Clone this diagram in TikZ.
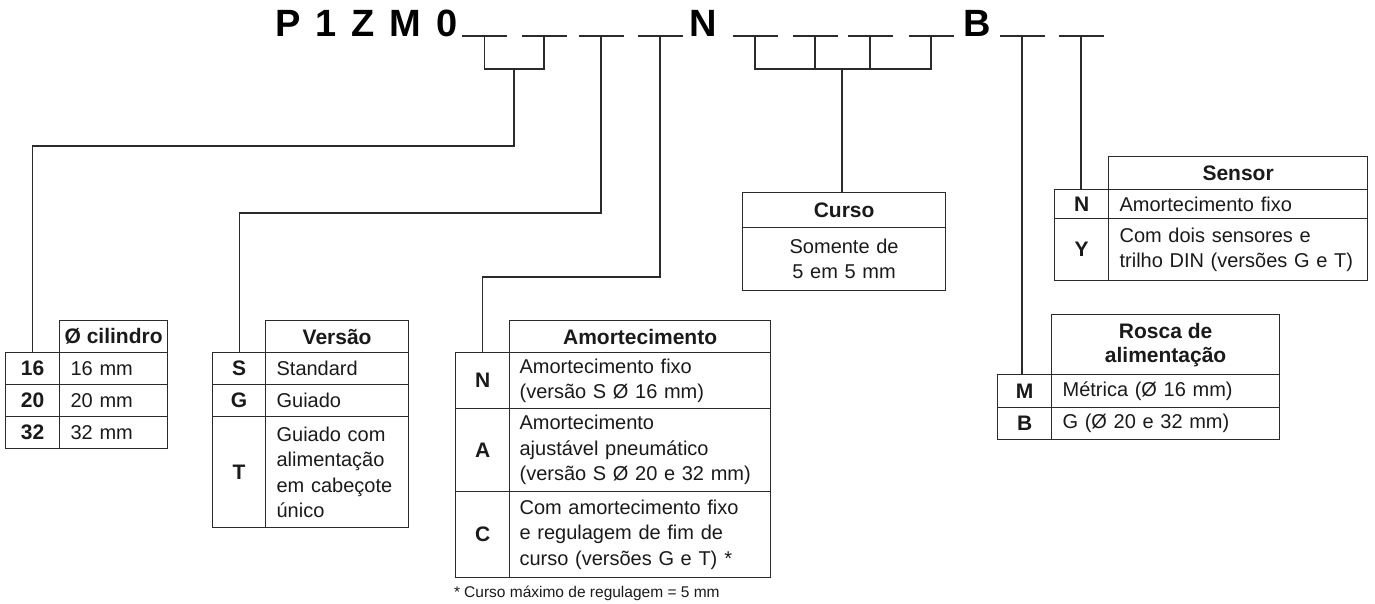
\documentclass[tikz,border=0pt]{standalone}
\usepackage{fontspec}
\setmainfont{Liberation Sans}
\usetikzlibrary{calc}
\definecolor{ln}{HTML}{2B2B2B}
\definecolor{tx}{HTML}{1A1A1A}
\newcommand\bodyf{\fontsize{20}{25.5}\selectfont}
\newcommand\boldf{\fontsize{21}{25.5}\selectfont\bfseries}
\newcommand\codef{\fontsize{38}{40}\selectfont\bfseries}
\newcommand\footf{\fontsize{15.5}{18}\selectfont}
\tikzset{
  cellbox/.style={draw=ln, line width=1.2pt, inner sep=0pt, anchor=north west, text=tx, font=\bodyf},
  keycell/.style={cellbox, font=\boldf, align=center, minimum width=54pt},
  valcell/.style={cellbox, align=left, inner xsep=11pt},
  headcell/.style={cellbox, font=\boldf, align=center},
  conn/.style={draw=ln, line width=1.2pt},
  uline/.style={draw=ln, line width=1.8pt},
  codetxt/.style={font=\codef, inner sep=0pt, anchor=base west, text=black},
}
\begin{document}
\begin{tikzpicture}[x=1pt, y=-1pt]
\useasboundingbox (0,0) rectangle (1375,604);
% code text
\node[codetxt] (code) at (275,37) {P\kern15pt 1\kern15pt Z\kern15pt M\kern15pt 0};
\node[codetxt] (cN) at (689,37) {N};
\node[codetxt] (cB) at (963,37) {B};
% underscore positions
\foreach \n/\x in {1/484.5,2/544,3/601,4/660,5/755,6/815,7/870,8/931,9/1022,10/1081}
  \coordinate (u\n) at (\x,36);
\foreach \n in {1,...,10}
  \draw[uline] ($(u\n)+(-22.5,0)$) -- ($(u\n)+(22.5,0)$);
\coordinate (b1) at (514,69);
\coordinate (b2) at (842,69);
% brackets
\draw[conn] (u1) -- (u1 |- b1) -- (u2 |- b1) -- (u2);
\draw[conn] (u5) -- (u5 |- b2) -- (u8 |- b2) -- (u8);
\draw[conn] (u6) -- (u6 |- b2);
\draw[conn] (u7) -- (u7 |- b2);

% ---- table: diameter
\node[headcell, minimum width=108pt, minimum height=32pt] (hD) at (59,320) {Ø cilindro};
\node[keycell, minimum height=32pt] (k16) at (5,352) {16};
\node[valcell, text width=86pt, minimum height=32pt] (v16) at (59,352) {16 mm};
\node[keycell, minimum height=32pt] (k20) at (5,384) {20};
\node[valcell, text width=86pt, minimum height=32pt] (v20) at (59,384) {20 mm};
\node[keycell, minimum height=32pt] (k32) at (5,416) {32};
\node[valcell, text width=86pt, minimum height=32pt] (v32) at (59,416) {32 mm};

% ---- table: version
\node[headcell, minimum width=143pt, minimum height=32pt] (hV) at (265,320) {Versão};
\node[keycell, minimum width=53pt, minimum height=32pt] (kS) at (212,352) {S};
\node[valcell, text width=121pt, minimum height=32pt] (vS) at (265,352) {Standard};
\node[keycell, minimum width=53pt, minimum height=32pt] (kG) at (212,384) {G};
\node[valcell, text width=121pt, minimum height=32pt] (vG) at (265,384) {Guiado};
\node[keycell, minimum width=53pt, minimum height=111pt] (kT) at (212,416) {T};
\node[valcell, text width=121pt, minimum height=111pt] (vT) at (265,416) {Guiado com\\alimentação\\em cabeçote\\único};

% ---- table: cushioning
\node[headcell, minimum width=261pt, minimum height=32pt] (hA) at (509,320) {Amortecimento};
\node[keycell, minimum height=56pt] (kAN) at (455,352) {N};
\node[valcell, inner xsep=10pt, text width=241pt, minimum height=56pt] (vAN) at (509,352) {Amortecimento fixo\\(versão S Ø 16 mm)};
\node[keycell, minimum height=83pt] (kAA) at (455,408) {A};
\node[valcell, inner xsep=10pt, text width=241pt, minimum height=83pt] (vAA) at (509,408) {Amortecimento\\ajustável pneumático\\(versão S Ø 20 e 32 mm)};
\node[keycell, minimum height=86pt] (kAC) at (455,491) {C};
\node[valcell, inner xsep=10pt, text width=241pt, minimum height=86pt] (vAC) at (509,491) {Com amortecimento fixo\\e regulagem de fim de\\curso (versões G e T)\hspace{7pt}*};
\node[anchor=west, inner sep=0pt, font=\footf, text=tx] (foot) at (454,593) {*\hspace{4pt}Curso máximo de regulagem = 5 mm};

% ---- stroke box
\node[headcell, minimum width=203pt, minimum height=35pt] (hC) at (742,192) {Curso};
\node[cellbox, align=center, text width=183pt, inner xsep=10pt, minimum height=63pt] (vC) at (742,227) {Somente de\\5 em 5 mm};

% ---- table: sensor
\node[headcell, minimum width=259pt, minimum height=33pt] (hSe) at (1108,156) {Sensor};
\node[keycell, minimum height=29pt] (kSN) at (1054,189) {N};
\node[valcell, text width=237pt, minimum height=29pt] (vSN) at (1108,189) {Amortecimento fixo};
\node[keycell, minimum height=62pt] (kSY) at (1054,218) {Y};
\node[valcell, text width=237pt, minimum height=62pt] (vSY) at (1108,218) {Com dois sensores e\\\mbox{trilho DIN (versões G e T)}};

% ---- table: thread
\node[headcell, minimum width=228pt, minimum height=60pt, font=\fontsize{21}{24}\selectfont\bfseries] (hR) at (1051,314) {Rosca de\\alimentação};
\node[keycell, minimum height=33pt] (kRM) at (997,374) {M};
\node[valcell, text width=206pt, minimum height=33pt] (vRM) at (1051,374) {Métrica (Ø 16 mm)};
\node[keycell, minimum height=32pt] (kRB) at (997,407) {B};
\node[valcell, text width=206pt, minimum height=32pt] (vRB) at (1051,407) {G (Ø 20 e 32 mm)};

% ---- connectors
\draw[conn] (b1) -- ++(0,77) -| (k16.north);
\draw[conn] (u3) -- ++(0,177) -| (kS.north);
\draw[conn] (u4) -- ++(0,241) -| (kAN.north);
\draw[conn] (b2) -- (b2 |- hC.north);
\draw[conn] (u9) -- (u9 |- kRM.north);
\draw[conn] (u10) -- (u10 |- kSN.north);
\end{tikzpicture}
\end{document}
